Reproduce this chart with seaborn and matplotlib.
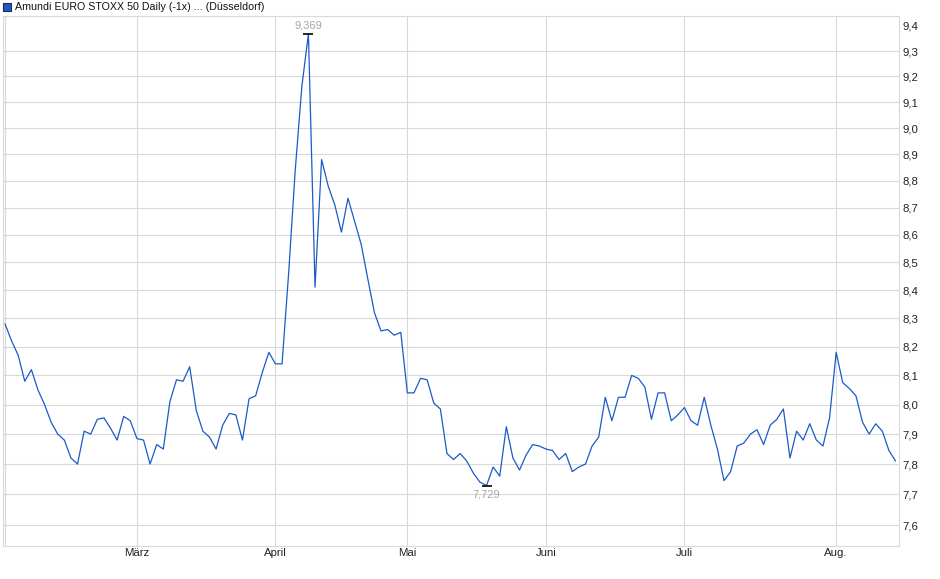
import numpy as np
import pandas as pd
import matplotlib
matplotlib.use("Agg")
from matplotlib import pyplot as plt
from matplotlib.patches import Rectangle
from matplotlib.ticker import FixedLocator, FuncFormatter, NullLocator
import seaborn as sns

title = "Amundi EURO STOXX 50 Daily (-1x) ... (Düsseldorf)"

# trading days Düsseldorf, Feb 3 - Aug 14 2025
start, end = "2025-02-03", "2025-08-14"
holidays = ["2025-04-18", "2025-04-21", "2025-05-01"]

kurs = [
    8.28, 8.22, 8.17, 8.08, 8.12, 8.05, 8.00, 7.94, 7.90, 7.88,
    7.82, 7.80, 7.91, 7.90, 7.95, 7.955, 7.92, 7.88, 7.96, 7.945,
    7.885, 7.88, 7.80, 7.865, 7.85, 8.01, 8.085, 8.08, 8.13, 7.98,
    7.91, 7.89, 7.85, 7.93, 7.97, 7.965, 7.88, 8.02, 8.03, 8.11,
    8.18, 8.14, 8.14, 8.46, 8.84, 9.16, 9.369, 8.41, 8.88, 8.78,
    8.71, 8.61, 8.735, 8.65, 8.565, 8.44, 8.32, 8.255, 8.26, 8.24,
    8.25, 8.04, 8.04, 8.09, 8.085, 8.005, 7.985, 7.835, 7.815, 7.835,
    7.81, 7.77, 7.74, 7.729, 7.79, 7.76, 7.925, 7.82, 7.78, 7.83,
    7.865, 7.86, 7.85, 7.845, 7.815, 7.835, 7.775, 7.79, 7.80, 7.86,
    7.89, 8.025, 7.945, 8.025, 8.025, 8.10, 8.09, 8.06, 7.95, 8.04,
    8.04, 7.945, 7.965, 7.99, 7.945, 7.93, 8.025, 7.93, 7.85, 7.745,
    7.775, 7.86, 7.87, 7.90, 7.915, 7.865, 7.93, 7.95, 7.985, 7.82,
    7.91, 7.88, 7.935, 7.88, 7.86, 7.955, 8.18, 8.075, 8.055, 8.03,
    7.94, 7.90, 7.935, 7.91, 7.845, 7.81,
]

month_names = {2: "", 3: "März", 4: "April", 5: "Mai", 6: "Juni", 7: "Juli", 8: "Aug."}
y_ticks = [7.6, 7.7, 7.8, 7.9, 8.0, 8.1, 8.2, 8.3, 8.4, 8.5,
           8.6, 8.7, 8.8, 8.9, 9.0, 9.1, 9.2, 9.3, 9.4]

dates = pd.bdate_range(start, end).difference(pd.to_datetime(holidays))
df = pd.DataFrame({"pos": np.arange(len(dates)), "datum": dates, "kurs": kurs})
month_pos = df.groupby(df["datum"].dt.month)["pos"].min()

sns.set_style("white")
plt.rcParams["font.family"] = ["Liberation Sans", "DejaVu Sans"]

grid_col = "#d9d9d9"
line_col = "#1a5bc8"

fig = plt.figure(figsize=(9.4, 5.79), dpi=100)
ax = fig.add_axes([3 / 940, 1 - 545.5 / 579, 895.5 / 940, 529.5 / 579])

sns.lineplot(data=df, x="pos", y="kurs", ax=ax, color=line_col, lw=0.9)

ax.set_yscale("log")
ax.set_ylim(7.534, 9.44)
ax.set_xlim(-0.3, len(df) - 1 + 0.45)

ax.yaxis.tick_right()
ax.yaxis.set_major_locator(FixedLocator(y_ticks))
ax.yaxis.set_minor_locator(NullLocator())
ax.yaxis.set_major_formatter(FuncFormatter(lambda v, p: f"{v:.1f}".replace(".", ",")))
ax.set_xticks(month_pos.values)
ax.set_xticklabels([month_names[m] for m in month_pos.index])
ax.tick_params(axis="y", length=0, pad=3, labelsize=8.2, labelcolor="#222222")
ax.tick_params(axis="x", length=0, pad=1.5, labelsize=8.2, labelcolor="#222222")
ax.set_xlabel("")
ax.set_ylabel("")

ax.grid(True, color=grid_col, lw=0.8)
ax.get_ygridlines()[-1].set_visible(False)
for sp in ax.spines.values():
    sp.set_visible(True)
    sp.set_color(grid_col)
    sp.set_linewidth(0.8)

# high / low markers
i_max = df["kurs"].idxmax()
i_min = df["kurs"].idxmin()
for i, off, va in [(i_max, 2, "bottom"), (i_min, -3, "top")]:
    x, y = df.loc[i, "pos"], df.loc[i, "kurs"]
    ax.plot([x], [y], marker="_", ms=7, mew=1.2, color="black")
    ax.annotate(f"{y:.3f}".replace(".", ","), (x, y), xytext=(0, off),
                textcoords="offset points", ha="center", va=va,
                color="#a6a6a6", fontsize=8)

# legend-like title
fig.patches.append(Rectangle((3 / 940, 1 - 10.5 / 579), 8 / 940, 8 / 579,
                             transform=fig.transFigure, facecolor="#2456c4",
                             edgecolor="#1a2a60", lw=0.8))
fig.text(15 / 940, 1 - 6.5 / 579, title, va="center", ha="left",
         fontsize=7.7, color="#111111")

plt.savefig("out.png", dpi=100)
